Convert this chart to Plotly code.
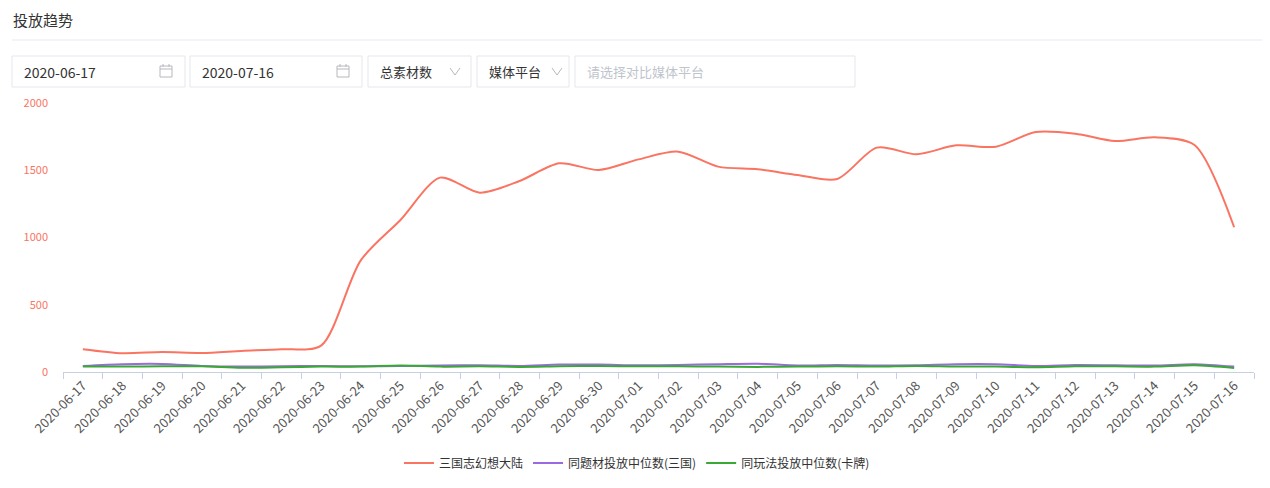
import plotly.graph_objects as go

dates = [
    "2020-06-17", "2020-06-18", "2020-06-19", "2020-06-20", "2020-06-21",
    "2020-06-22", "2020-06-23", "2020-06-24", "2020-06-25", "2020-06-26",
    "2020-06-27", "2020-06-28", "2020-06-29", "2020-06-30", "2020-07-01",
    "2020-07-02", "2020-07-03", "2020-07-04", "2020-07-05", "2020-07-06",
    "2020-07-07", "2020-07-08", "2020-07-09", "2020-07-10", "2020-07-11",
    "2020-07-12", "2020-07-13", "2020-07-14", "2020-07-15", "2020-07-16",
]
game_counts = [
    170, 140, 149, 142, 157, 169, 196, 830, 1130, 1445,
    1333, 1420, 1552, 1502, 1581, 1638, 1527, 1507, 1465, 1435,
    1668, 1619, 1685, 1675, 1784, 1772, 1717, 1745, 1688, 1076,
]
theme_median = [
    45, 58, 60, 45, 40, 42, 45, 42, 45, 48,
    50, 45, 55, 55, 50, 52, 58, 62, 48, 52,
    48, 50, 58, 58, 45, 52, 50, 48, 58, 40,
]
play_median = [
    40, 40, 42, 42, 32, 35, 40, 40, 48, 40,
    42, 38, 42, 45, 42, 42, 40, 38, 40, 42,
    40, 45, 40, 40, 35, 42, 42, 40, 50, 30,
]
series_names = ["三国志幻想大陆", "同题材投放中位数(三国)", "同玩法投放中位数(卡牌)"]
y_ticks = [0, 500, 1000, 1500, 2000]

# page body has an 8px margin, so screen coords are shifted by OFF
OFF = 8
W, H = 1270, 488
L, R, T, B = 63 - OFF, 1270 - 1254 + OFF, 103 - OFF, 488 - 372 + OFF
PW, PH = W - L - R, H - T - B
FONT = "Noto Sans CJK SC, Microsoft YaHei, sans-serif"
RED, PURPLE, GREEN = "#fa7462", "#9b6ae0", "#3aa835"


def px(x):
    # screen x -> paper x
    return (x - OFF - L) / PW


def py(y):
    # screen y -> paper y
    return (H - B - (y - OFF)) / PH


fig = go.Figure()
for name, vals, color in zip(series_names, [game_counts, theme_median, play_median], [RED, PURPLE, GREEN]):
    fig.add_trace(go.Scatter(
        x=dates, y=vals, name=name, mode="lines",
        line=dict(color=color, width=2, shape="spline", smoothing=0.8),
    ))

shapes = []
annotations = []

# header
annotations.append(dict(x=px(11), y=py(19), xref="paper", yref="paper", text="投放趋势",
                        showarrow=False, xanchor="left", yanchor="middle",
                        font=dict(size=15, color="#333", family=FONT)))
shapes.append(dict(type="line", xref="paper", yref="paper", x0=px(12), x1=px(1262),
                   y0=py(40), y1=py(40), line=dict(color="#e6e9ef", width=1)))

# filter boxes
boxes = [
    (12, 185, "2020-06-17", "#333", "cal"),
    (190, 362, "2020-07-16", "#333", "cal"),
    (368, 471, "总素材数", "#333", "chev"),
    (477, 569, "媒体平台", "#333", "chev"),
    (575, 855, "请选择对比媒体平台", "#c0c4cc", None),
]
for x0, x1, label, color, icon in boxes:
    shapes.append(dict(type="rect", xref="paper", yref="paper", x0=px(x0), x1=px(x1),
                       y0=py(87), y1=py(56), line=dict(color="#e4e7ed", width=1),
                       fillcolor="white"))
    annotations.append(dict(x=px(x0 + 10), y=py(72), xref="paper", yref="paper", text=label,
                            showarrow=False, xanchor="left", yanchor="middle",
                            font=dict(size=14 if icon == "cal" else 13, color=color, family=FONT)))
    if icon == "cal":
        cx = x1 - 19
        shapes.append(dict(type="rect", xref="paper", yref="paper", x0=px(cx - 6), x1=px(cx + 6),
                           y0=py(77), y1=py(66), line=dict(color="#b5b8bf", width=1)))
        shapes.append(dict(type="line", xref="paper", yref="paper", x0=px(cx - 6), x1=px(cx + 6),
                           y0=py(69), y1=py(69), line=dict(color="#b5b8bf", width=1)))
        for dx in (-3, 3):
            shapes.append(dict(type="line", xref="paper", yref="paper", x0=px(cx + dx), x1=px(cx + dx),
                               y0=py(64), y1=py(67), line=dict(color="#b5b8bf", width=1)))
    elif icon == "chev":
        cx = x1 - 16 if x1 - x0 > 100 else x1 - 12
        shapes.append(dict(type="path", xref="paper", yref="paper",
                           path=f"M {px(cx - 5)},{py(68)} L {px(cx)},{py(75)} L {px(cx + 5)},{py(68)}",
                           line=dict(color="#b5b8bf", width=1)))

fig.update_layout(
    width=W, height=H,
    margin=dict(l=L, r=R, t=T, b=B),
    paper_bgcolor="white", plot_bgcolor="white",
    font=dict(family=FONT, color="#333"),
    shapes=shapes, annotations=annotations,
    legend=dict(orientation="h", x=px(637), xanchor="center", y=py(463), yanchor="middle",
                font=dict(size=12, color="#333", family=FONT), itemwidth=30),
)
fig.update_xaxes(
    type="category", range=[-0.5, len(dates) - 0.5],
    showline=True, linecolor="#c6d0e2", linewidth=1,
    ticks="outside", tickson="boundaries", ticklen=6, tickcolor="#c6d0e2",
    tickangle=-45, tickfont=dict(size=13, color="#555555"),
    showgrid=False, zeroline=False,
)
fig.update_yaxes(
    range=[0, 2000], tickvals=y_ticks, showgrid=False, zeroline=False, showline=False,
    tickfont=dict(size=11, color=RED), ticks="", ticklabelstandoff=14,
)

fig.write_html("out.html")
